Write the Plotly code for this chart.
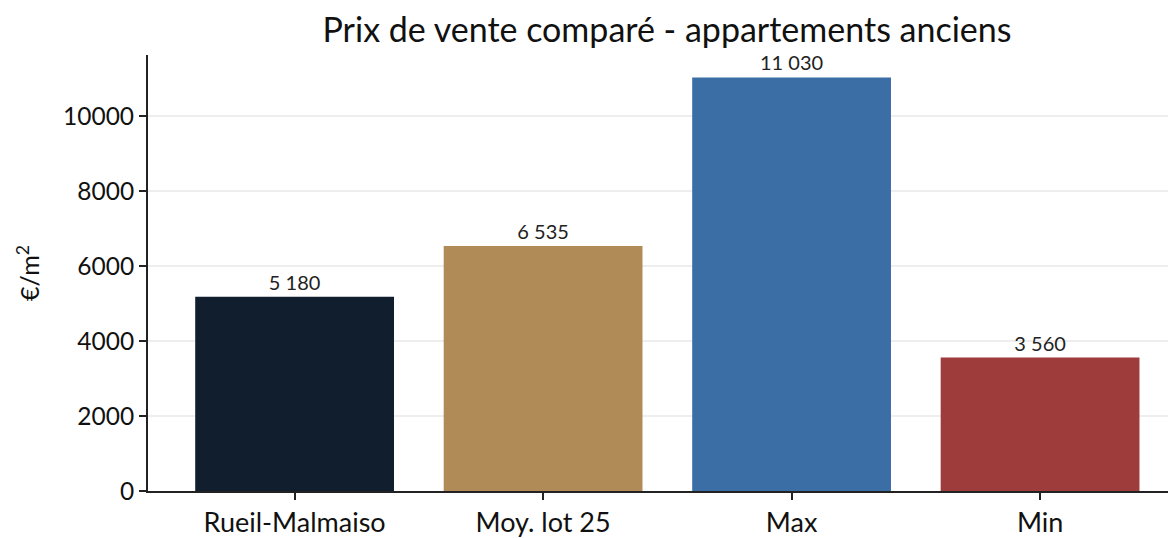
import plotly.graph_objects as go

categories = ["Rueil-Malmaiso", "Moy. lot 25", "Max", "Min"]
values = [5180, 6535, 11030, 3560]
labels = ["5 180", "6 535", "11 030", "3 560"]
colors = ["#111e2e", "#b08b57", "#3a6ea5", "#9e3b3b"]
y_ticks = [0, 2000, 4000, 6000, 8000, 10000]

FONT = "Lato, 'Noto Sans', sans-serif"
W, H = 1168, 530

fig = go.Figure(go.Bar(
    x=list(range(len(categories))),
    y=values,
    text=labels,
    textposition="outside",
    textfont=dict(size=20, color="#222222", family=FONT),
    marker=dict(color=colors, line=dict(width=0)),
    width=0.8,
    cliponaxis=False,
))

fig.update_layout(
    width=W, height=H,
    margin=dict(l=140, r=0, t=47, b=47),
    paper_bgcolor="white", plot_bgcolor="white",
    font=dict(family=FONT, color="#111111"),
    title=dict(text="Prix de vente comparé - appartements anciens",
               x=(140 + 1178) / 2 / W, xanchor="center", y=1 - 22 / H, yanchor="middle",
               font=dict(size=34, color="#111111", family=FONT)),
    showlegend=False,
    bargap=0.2,
)
fig.update_xaxes(
    tickmode="array", tickvals=list(range(len(categories))), ticktext=categories,
    range=[-0.59, 3.547],
    showline=True, linecolor="#222222", linewidth=2,
    ticks="outside", ticklen=7, tickwidth=1.5, tickcolor="#222222",
    tickfont=dict(size=27, family=FONT, color="#111111"),
    showgrid=False, zeroline=False,
)
fig.update_yaxes(
    tickmode="array", tickvals=y_ticks, ticktext=[str(v) for v in y_ticks],
    range=[0, 11627],
    showline=True, linecolor="#222222", linewidth=2,
    ticks="outside", ticklen=7, tickwidth=1.5, tickcolor="#222222",
    tickfont=dict(size=24.5, family=FONT, color="#111111"),
    showgrid=True, gridcolor="rgba(200,200,200,0.3)", gridwidth=2,
    zeroline=False, layer="above traces",
    title=dict(text="€/m<sup>2</sup>", font=dict(size=25, family=FONT, color="#111111"), standoff=16),
)

fig.write_html("out.html")
